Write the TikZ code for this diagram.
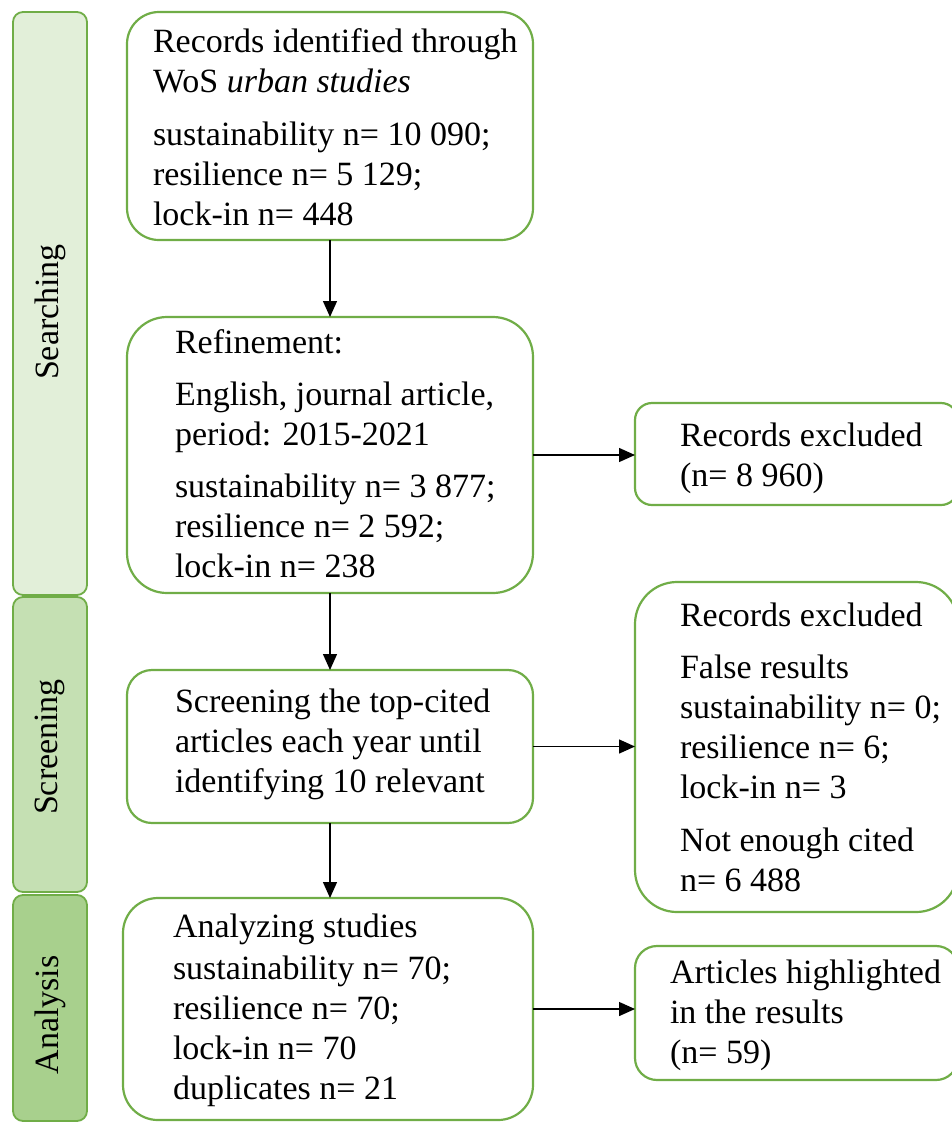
\documentclass[tikz,border=0pt]{standalone}
\usepackage{fontspec}
\setmainfont{Liberation Serif}
\usetikzlibrary{arrows.meta}
\definecolor{grn}{HTML}{70AD47}
\definecolor{fillA}{HTML}{E2EFD9}
\definecolor{fillB}{HTML}{C5E0B3}
\definecolor{fillC}{HTML}{A8D08D}
\tikzset{
  box/.style={draw=grn, line width=2.2bp, fill=white, inner sep=0, outer sep=0, anchor=north west},
  bar/.style={draw=grn, line width=1.8bp, rounded corners=10bp, inner sep=0, outer sep=0, anchor=north west},
  txt/.style={anchor=north west, inner sep=0, outer sep=0, align=left},
  lab/.style={rotate=90, inner sep=0},
  arr/.style={-{Triangle[length=16bp,width=14bp]}, line width=1.4bp, black}
}
\begin{document}
\begin{tikzpicture}[x=1bp, y=-1bp, font=\fontsize{34bp}{40bp}\selectfont]
\useasboundingbox (0,0) rectangle (952,1123);
\clip (0,0) rectangle (952,1123);
% stage bars
\node[bar, fill=fillA, minimum width=74bp, minimum height=583bp] (s1) at (13,12) {};
\node[bar, fill=fillB, minimum width=74bp, minimum height=295bp] (s2) at (13,597) {};
\node[bar, fill=fillC, minimum width=74bp, minimum height=226bp] (s3) at (13,895) {};
\node[lab] (l1) at (50,312) {Searching};
\node[lab] (l2) at (50,747) {Screening};
\node[lab] (l3) at (50,1015) {Analysis};
% main boxes
\node[box, rounded corners=32bp, minimum width=406bp, minimum height=228bp] (b1) at (127,12) {};
\node[box, rounded corners=40bp, minimum width=406bp, minimum height=276bp] (b2) at (127,317) {};
\node[box, rounded corners=25bp, minimum width=406bp, minimum height=153bp] (b3) at (127,670) {};
\node[box, rounded corners=35bp, minimum width=410bp, minimum height=222bp] (b4) at (123,898) {};
% right boxes
\node[box, rounded corners=17bp, minimum width=323bp, minimum height=102bp] (r1) at (635,403) {};
\node[box, rounded corners=42bp, minimum width=323bp, minimum height=330bp] (r2) at (635,582) {};
\node[box, rounded corners=22bp, minimum width=323bp, minimum height=134bp] (r3) at (635,946) {};
% texts
\node[txt] (t1) at (153,24) {\rule{0pt}{28bp}Records identified through\\ WoS \textit{urban studies}\\[13bp] sustainability n= 10 090;\\ resilience n= 5 129;\\ lock-in n= 448};
\node[txt] (t2) at (175,325) {\rule{0pt}{28bp}Refinement:\\[12bp] English, journal article,\\ period: 2015-2021\\[12bp] sustainability n= 3 877;\\ resilience n= 2 592;\\ lock-in n= 238};
\node[txt] (t3) at (175,684) {\rule{0pt}{28bp}Screening the top-cited\\ articles each year until\\ identifying 10 relevant};
\node[txt] (t4) at (173,909) {\rule{0pt}{28bp}Analyzing studies\\[2bp] sustainability n= 70;\\ resilience n= 70;\\ lock-in n= 70\\ duplicates n= 21};
\node[txt] (u1) at (680,418) {\rule{0pt}{28bp}Records excluded\\ (n= 8 960)};
\node[txt] (u2) at (680,598) {\rule{0pt}{28bp}Records excluded\\[12bp] False results\\ sustainability n= 0;\\ resilience n= 6;\\ lock-in n= 3\\[13bp] Not enough cited\\ n= 6 488};
\node[txt] (u3) at (670,955) {\rule{0pt}{28bp}Articles highlighted\\ in the results\\ (n= 59)};
% arrows
\draw[arr] (b1.south) -- (b2.north);
\draw[arr] (b2.south) -- (b3.north);
\draw[arr] (b3.south) -- (b3.south |- b4.north);
\draw[arr] (b2.east) -- (b2.east -| r1.west);
\draw[arr] (b3.east) -- (b3.east -| r2.west);
\draw[arr] (b4.east) -- (b4.east -| r3.west);
\end{tikzpicture}
\end{document}
